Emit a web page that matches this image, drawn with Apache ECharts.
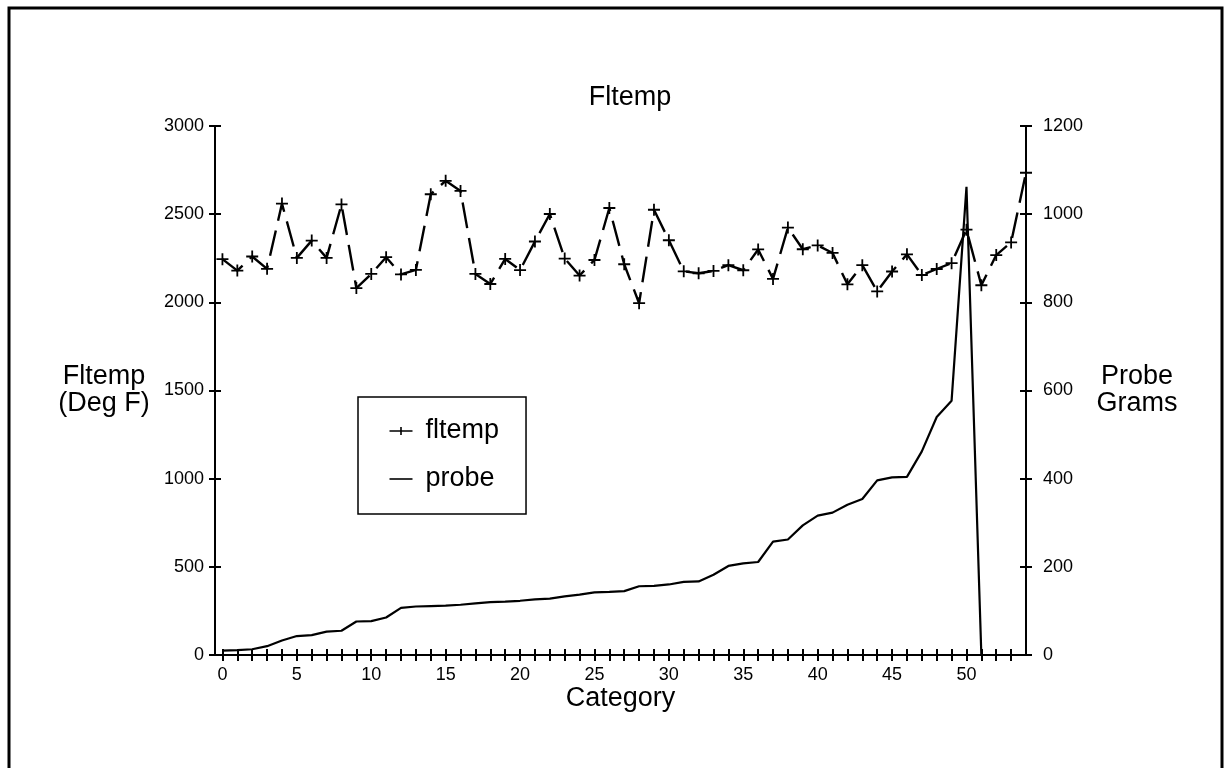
<!DOCTYPE html>
<html>
<head>
<meta charset="utf-8">
<script src="https://cdn.jsdelivr.net/npm/echarts@6/dist/echarts.min.js"></script>
<style>html,body{margin:0;padding:0;background:#fff;}#c{width:1231px;height:768px;}</style>
</head>
<body>
<div id="c"></div>
<script>
const categories = [0,1,2,3,4,5,6,7,8,9,10,11,12,13,14,15,16,17,18,19,20,21,22,23,24,25,26,27,28,29,30,31,32,33,34,35,36,37,38,39,40,41,42,43,44,45,46,47,48,49,50,51,52,53,54];
const fltemp = [2245,2180,2260,2190,2560,2252,2350,2252,2555,2081,2161,2256,2158,2184,2613,2689,2632,2161,2104,2246,2183,2345,2501,2248,2152,2240,2535,2216,1995,2525,2352,2176,2165,2178,2211,2182,2300,2133,2424,2301,2323,2280,2102,2211,2062,2175,2272,2155,2189,2222,2412,2097,2268,2340,2735];
const probe = [10,11,13,20,33,43,45,53,55,76,77,85,107,110,111,112,114,117,120,121,123,126,128,133,137,142,143,145,156,157,160,166,167,182,202,208,211,257,262,294,316,323,341,354,396,403,404,462,540,577,1062,0,0,0,0];
const xTickLabels = [0,5,10,15,20,25,30,35,40,45,50];
const xTickMarks = [0,1,2,3,4,5,6,7,8,9,10,11,12,13,14,15,16,17,18,19,20,21,22,23,24,25,26,27,28,29,30,31,32,33,34,35,36,37,38,39,40,41,42,43,44,45,46,47,48,49,50,51,52,53];

const FONT = '"Liberation Sans", Arial, Helvetica, sans-serif';
const chart = echarts.init(document.getElementById('c'), null, {renderer: 'canvas'});
const axisLine = {show: true, onZero: false, lineStyle: {color: '#000', width: 2}};
const tickOut = {show: true, inside: false, length: 6, lineStyle: {color: '#000', width: 2}};
const tickIn = {show: true, inside: true, length: 6, lineStyle: {color: '#000', width: 2}};
const plain = v => String(v);
const labelStyle = {color: '#000', fontSize: 18, fontFamily: FONT, formatter: plain};
const nameStyle = {color: '#000', fontSize: 27, fontFamily: FONT, lineHeight: 27};

chart.setOption({
  animation: false,
  backgroundColor: '#fff',
  title: {
    text: 'Fltemp', left: 625, top: 79, textAlign: 'center',
    textStyle: {color: '#000', fontSize: 27, fontWeight: 'normal', fontFamily: FONT}
  },
  graphic: [{
    type: 'rect', shape: {x: 9, y: 8, width: 1213, height: 800},
    style: {fill: 'none', stroke: '#000', lineWidth: 3}, silent: true
  }],
  legend: {
    orient: 'vertical', left: 358, top: 397,
    padding: [20, 27, 21, 29],
    borderColor: '#000', borderWidth: 1.5, borderRadius: 0,
    itemWidth: 23, itemHeight: 12, itemGap: 20,
    textStyle: {color: '#000', fontSize: 27, fontFamily: FONT, lineHeight: 28, padding: [0, 0, 0, 8]},
    data: [
      {name: 'fltemp', icon: 'path://M0,6 L23,6 M11.5,2 L11.5,10', itemStyle: {color: 'none', borderColor: '#000', borderWidth: 1.6}},
      {name: 'probe', icon: 'path://M0,0 L0,0 M0,6 L23,6 M0,12 L0,12', itemStyle: {color: 'none', borderColor: '#000', borderWidth: 1.6}}
    ]
  },
  grid: {left: 215, right: 205, top: 126, height: 529, containLabel: false},
  xAxis: [{
    type: 'value', min: -0.5, max: 54, position: 'bottom',
    axisLine: axisLine,
    axisTick: Object.assign({customValues: xTickMarks}, tickOut),
    axisLabel: Object.assign({customValues: xTickLabels, margin: 11}, labelStyle),
    splitLine: {show: false},
    name: 'Category', nameLocation: 'middle', nameGap: 30, nameMoveOverlap: false, nameTextStyle: nameStyle
  }, {
    type: 'value', min: -0.5, max: 54, position: 'bottom',
    axisLine: {show: false, onZero: false},
    axisTick: Object.assign({customValues: xTickMarks}, tickIn),
    axisLabel: {show: false},
    splitLine: {show: false}
  }],
  yAxis: [{
    type: 'value', min: 0, max: 3000, interval: 500, position: 'left',
    axisLine: axisLine, axisTick: tickOut,
    axisLabel: Object.assign({margin: 11}, labelStyle),
    splitLine: {show: false},
    name: 'Fltemp\n(Deg F)', nameLocation: 'middle', nameRotate: 0, nameGap: 111, nameMoveOverlap: false,
    nameTextStyle: Object.assign({align: 'center', padding: [10, 0, 0, 0]}, nameStyle)
  }, {
    type: 'value', min: 0, max: 1200, interval: 200, position: 'right',
    axisLine: axisLine, axisTick: tickOut,
    axisLabel: Object.assign({margin: 17}, labelStyle),
    splitLine: {show: false},
    name: 'Probe\nGrams', nameLocation: 'middle', nameRotate: 0, nameGap: 111, nameMoveOverlap: false,
    nameTextStyle: Object.assign({align: 'center', padding: [0, 0, 4, 0]}, nameStyle)
  }, {
    type: 'value', min: 0, max: 3000, interval: 500, position: 'left',
    axisLine: {show: false, onZero: false}, axisTick: tickIn, axisLabel: {show: false}, splitLine: {show: false}
  }, {
    type: 'value', min: 0, max: 1200, interval: 200, position: 'right',
    axisLine: {show: false, onZero: false}, axisTick: tickIn, axisLabel: {show: false}, splitLine: {show: false}
  }],
  series: [{
    name: 'fltemp', type: 'line', xAxisIndex: 0, yAxisIndex: 0,
    data: categories.map((c, i) => [c, fltemp[i]]),
    symbol: 'path://M0,6 L12,6 M6,0 L6,12', symbolSize: 12, showAllSymbol: true,
    itemStyle: {color: 'none', borderColor: '#000', borderWidth: 1.8},
    lineStyle: {color: '#000', width: 2.4, type: [26, 10]},
    z: 3
  }, {
    name: 'probe', type: 'line', xAxisIndex: 0, yAxisIndex: 1,
    data: categories.map((c, i) => [c, probe[i]]),
    symbol: 'none', showSymbol: false,
    lineStyle: {color: '#000', width: 2.2},
    z: 2
  }]
});
</script>
</body>
</html>
